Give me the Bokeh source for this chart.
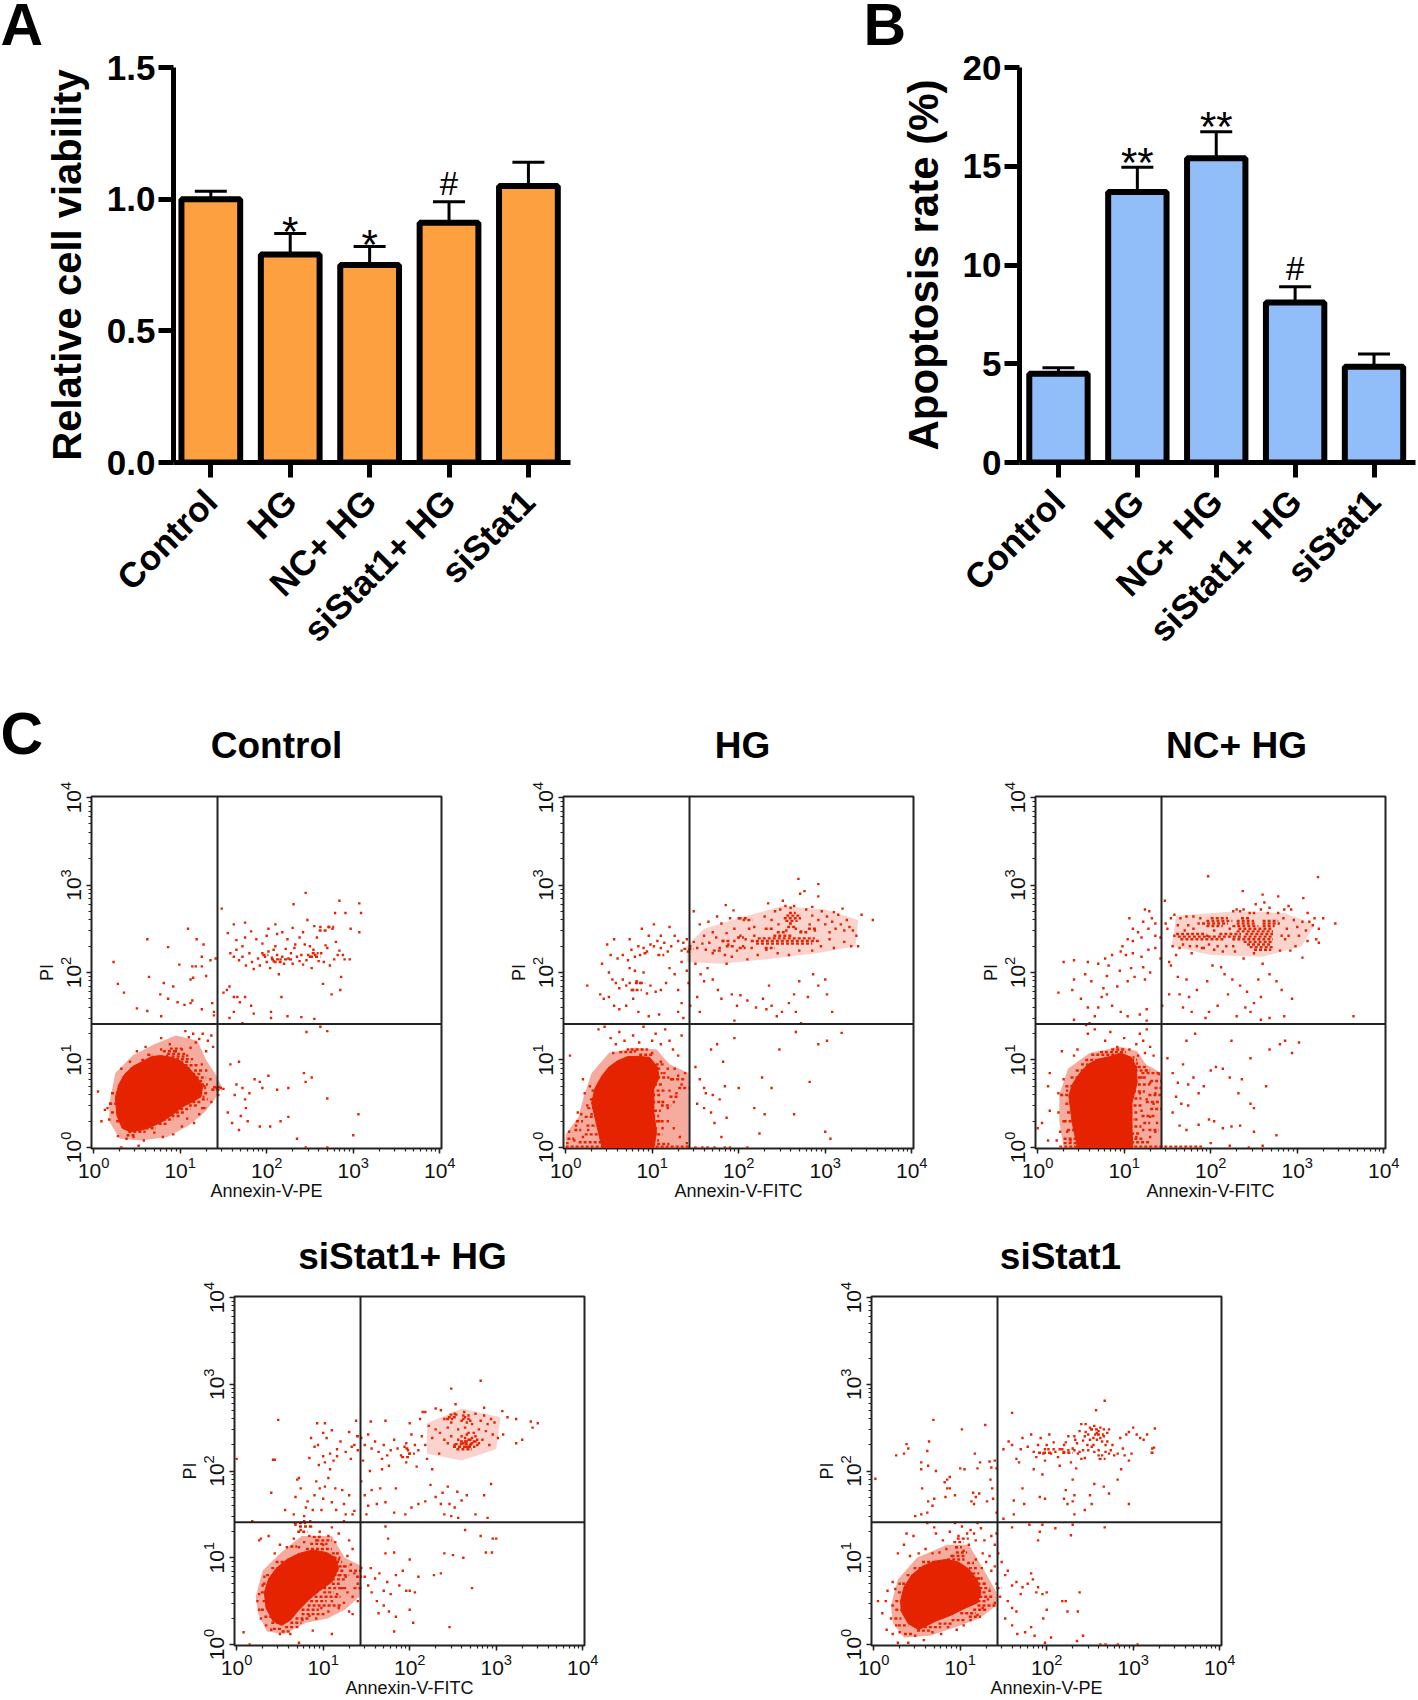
from math import pi
from bokeh.plotting import figure
from bokeh.layouts import column, row
from bokeh.models import (ColumnDataSource, FixedTicker, Range1d, Span, TeeHead, Whisker)
from bokeh.core.properties import value
from bokeh.embed import file_html
from bokeh.resources import INLINE

FONT = "Liberation Sans"
CATEGORIES = ["Control", "HG", "NC+ HG", "siStat1+ HG", "siStat1"]
VIABILITY = [1.0, 0.79, 0.75, 0.91, 1.05]
VIABILITY_TOP = [1.03, 0.87, 0.82, 0.99, 1.14]
VIABILITY_MARKS = ["", "*", "*", "#", ""]
APOPTOSIS = [4.5, 13.7, 15.4, 8.1, 4.85]
APOPTOSIS_TOP = [4.8, 14.95, 16.75, 8.9, 5.5]
APOPTOSIS_MARKS = ["", "**", "**", "#", ""]
QUAD_X = 27.0
QUAD_Y = 25.7

# All flow events below are (log10 Annexin-V, log10 PI).
# *_RUNS are horizontal runs of events: (log10 PI, first log10 Annexin-V, last log10 Annexin-V).
# *_CORE is the solid population outline, *_HALO the speckled zone round it.
CONTROL_HALO = [(.18,.5),(.25,.85),(.45,1.05),(.7,1.18),(.95,1.28),(1.2,1.22),(1.3,1.0),(1.4,.85),(1.48,.7),(1.4,.55),(1.28,.4),(1.1,.25),(.85,.12),(.55,.08),(.3,.1),(.18,.3)]
CONTROL_CORE = [(.25,.57),(.29,.72),(.36,.84),(.46,.93),(.56,.98),(.67,1.04),(.78,1.05),(.90,1.03),(1.0,.99),(1.10,.91),(1.18,.82),(1.26,.70),(1.24,.58),(1.14,.52),(1.02,.46),(.92,.38),(.80,.30),(.68,.24),(.56,.20),(.42,.18),(.33,.22),(.27,.36)]
CONTROL_RUNS = [(1.10,.80,.95),(1.13,.88,1.02),(1.07,.85,1.08),(1.04,.90,1.05),(1.01,.95,1.15),(.98,1.0,1.12),(.94,1.05,1.2),(.90,1.08,1.14),(.88,1.16,1.26),(.84,1.14,1.24),(.80,1.18,1.30),(.76,1.22,1.28),(.72,1.24,1.32),(.68,1.22,1.30),(.66,1.36,1.48),(.69,1.38,1.46),(.62,1.22,1.32),(.58,1.2,1.28),(.52,1.14,1.25),(.48,1.1,1.2),(.44,1.0,1.12),(.40,.95,1.05),(.36,.9,1.0),(.32,.8,.92),(.27,.75,.85),(.22,.6,.72),(.18,.4,.6),(.14,.38,.48),(.62,.2,.28),(.5,.18,.27),(.4,.2,.28),(.3,.26,.34),(.7,.28,.34),(.8,.33,.4),(.9,.42,.5),(1.0,.55,.7),(1.06,.62,.68),(.55,1.25,1.32),(.45,1.24,1.3),
(2.18,2.5,2.62),(2.15,2.05,2.15),(2.15,2.2,2.3),(2.2,1.95,2.02),(2.12,2.08,2.18),(2.52,2.7,2.78),(2.48,2.6,2.7),(2.22,2.52,2.6)]
CONTROL_EVENTS = [(2.45,2.91),(2.84,2.82),(3.07,2.79),(3.09,2.68),(2.31,2.78),(2.79,2.68),(2.91,2.68),(3.07,2.46),(2.97,2.50),(1.48,2.73),(1.75,2.57),(1.62,2.55),(1.09,2.50),(.62,2.38),(1.19,2.38),(.86,2.29),(1.27,2.32),(.23,2.12),(.28,1.87),(.35,1.77),(.64,1.95),(.99,2.09),(1.14,2.07),(1.18,2.07),(1.25,2.18),(1.41,2.16),(1.35,2.14),(1.25,2.07),(1.30,1.96),(1.12,1.92),(1.15,1.94),(.81,1.88),(.92,1.84),(.77,1.75),(.86,1.70),(.97,1.66),(1.05,1.63),(1.12,1.65),(1.14,1.68),(.50,1.59),(.62,1.56),(.78,1.50),(1.25,1.58),(1.37,1.65),(1.39,1.55),(1.39,1.51),
(1.50,1.77),(1.54,1.80),(1.57,1.84),(1.62,1.72),(1.66,1.72),(1.69,1.66),(1.75,1.72),(1.82,1.62),(1.62,1.55),(1.57,1.48),(1.72,1.42),(1.85,1.53),(2.05,1.48),(2.05,1.55),(2.24,1.50),(2.40,1.49),(2.55,1.47),(2.62,1.38),(2.70,1.33),(2.46,1.32),(2.75,1.75),(2.85,1.80),(2.65,1.87),(2.17,1.72),
(1.55,2.45),(1.65,2.37),(1.72,2.30),(1.75,2.40),(1.82,2.47),(1.88,2.38),(1.95,2.33),(2.00,2.42),(2.02,2.50),(2.08,2.26),(2.10,2.55),(2.12,2.44),(2.18,2.46),(2.24,2.38),(2.30,2.51),(2.33,2.32),(2.38,2.40),(2.42,2.46),(2.47,2.60),(2.50,2.30),(2.55,2.53),(2.58,2.40),(2.62,2.52),(2.68,2.31),(2.72,2.52),(2.76,2.50),(2.80,2.35),(2.84,2.25),(2.88,2.20),(2.96,2.15),(2.86,1.95),
(1.58,2.22),(1.62,2.18),(1.65,2.26),(1.68,2.14),(1.72,2.18),(1.76,2.08),(1.80,2.22),(1.83,2.12),(1.85,2.04),(1.90,2.16),(1.92,2.08),(1.95,2.22),(1.98,2.18),(2.00,2.12),(2.02,2.24),(2.04,2.05),(2.06,2.17),(2.08,2.13),(2.10,2.30),(2.12,2.20),(2.14,1.98),(2.16,2.15),(2.18,2.18),(2.20,2.10),(2.22,2.27),(2.25,2.16),(2.28,2.22),(2.30,2.10),(2.32,2.28),(2.35,2.18),(2.38,2.13),(2.40,2.20),(2.42,2.09),(2.44,2.32),(2.46,2.14),(2.48,2.20),(2.50,2.18),(2.52,2.05),(2.54,2.26),(2.56,2.20),(2.60,2.13),(2.63,2.22),(2.66,2.12),(2.70,2.28),(2.73,2.08),(2.78,2.15),(2.82,2.20),(2.90,2.15),
(.95,1.10),(1.02,1.12),(1.08,1.05),(1.12,1.14),(1.18,1.20),(1.22,1.24),(1.15,1.30),(1.10,1.26),(1.06,1.33),(1.26,1.30),(1.32,1.22),(1.36,1.28),(1.38,1.15),(1.30,1.10),(.78,1.25),(.88,1.18),(.60,1.15),(.50,1.10),(.42,.98),(.32,.90),(.78,1.12),(.85,1.05),
(1.25,.95),(1.30,.88),(1.35,.78),(1.28,.70),(1.38,.66),(1.42,.68),(1.47,.68),(1.50,.67),(1.44,.60),(1.36,.52),(1.28,.45),(1.22,.38),(1.16,.28),(1.08,.33),(1.02,.24),(.92,.15),(.80,.12),(.70,.17),(.58,.08),(.46,.12),(.38,.10),(.28,.13),(.18,.32),(.16,.45),(.09,.30),(.05,.64),(.13,.43),(.19,.50),(.32,0),(.52,.02),
(1.58,.95),(1.68,.98),(1.65,.72),(1.72,.68),(1.80,.62),(1.86,.78),(1.92,.75),(1.95,.68),(2.02,.82),(1.76,.45),(1.70,.36),(1.68,.20),(1.55,.40),(1.60,.28),(1.78,.30),(1.92,.24),(2.04,.24),(2.16,.30),(2.25,.35),(2.35,.10),(2.45,0),(2.70,0),(3.00,.14),(3.06,.38),(2.70,.56),(2.45,.75),(2.43,.85),(2.52,.80),(2.25,.68),(2.12,.66),(1.63,.60),(1.75,.55)]

HG_HALO = [(.2,.55),(.3,.85),(.5,1.08),(.8,1.14),(1.05,1.12),(1.2,.95),(1.42,.85),(1.42,0),(0,0),(0,.15),(.15,.35)]
HG_CLOUD = [(1.4,2.12),(1.8,2.1),(2.3,2.15),(2.9,2.22),(3.35,2.3),(3.38,2.6),(3.0,2.72),(2.5,2.76),(2.0,2.62),(1.6,2.5),(1.4,2.3)]
HG_CORE = [(.30,.51),(.34,.68),(.42,.82),(.50,.92),(.60,.99),(.72,1.04),(.85,1.04),(.97,1.03),(1.06,.92),(1.08,.80),(1.02,.67),(1.02,.40),(1.05,.17),(1.02,0),(.42,0),(.36,.25)]
HG_RUNS = [(2.33,2.2,2.85),(2.36,2.14,2.93),(2.39,2.22,2.88),(2.42,2.4,2.62),(2.68,2.58,2.66),(2.65,2.55,2.7),(2.62,2.52,2.72),(2.59,2.54,2.68),(2.56,2.58,2.62),(2.50,2.3,2.4),(2.52,2.56,2.66),(2.46,2.44,2.56),(2.46,2.7,2.8),(2.50,2.8,2.9),(2.28,2.3,2.42),(2.28,2.0,2.08),(2.25,1.7,1.8),(2.3,1.85,1.95),(2.36,1.8,1.9),(2.4,1.98,2.06),(2.62,2.0,2.1),(2.6,2.1,2.16),(2.27,1.36,1.48),(2.24,1.40,1.46),(1.88,.80,.92),(1.80,.75,.88),(2.2,1.06,1.14),(2.22,.9,.96),
(1.12,.75,.95),(1.09,.62,.78),(1.06,.85,1.02),(.95,1.04,1.15),(.9,1.0,1.10),(.85,1.04,1.12),(.8,1.0,1.2),(.78,1.22,1.38),(.72,1.02,1.12),(.68,1.3,1.42),(.65,1.05,1.15),(.6,1.0,1.1),(.58,1.2,1.3),(.52,1.0,1.14),(.48,1.1,1.22),(.42,1.02,1.1),(.36,1.0,1.08),(.3,1.04,1.14),(.22,1.02,1.08),(.15,1.0,1.12),(.08,1.0,1.08),(.04,1.0,1.2),(.01,0,1.42),(.85,.45,.55),(.75,.38,.46),(.65,.3,.38),(.55,.28,.34),(.45,.25,.32),(.35,.22,.36),(.25,.24,.36),(.15,.22,.44),(.06,.15,.44),(.3,.12,.2),(.2,.1,.18),(.1,.02,.1)]
HG_EVENTS = [(2.69,3.07),(2.92,3.01),(2.76,2.93),(2.71,2.90),(2.92,2.87),(2.51,2.82),(1.85,2.77),(2.34,2.79),(2.54,2.76),(2.64,2.76),(1.48,2.70),(1.94,2.71),(2.85,2.75),(3.10,2.69),(3.20,2.73),(3.15,2.66),(3.25,2.60),(3.42,2.66),(3.55,2.60),
(2.30,2.64),(2.38,2.60),(2.42,2.70),(2.46,2.55),(2.48,2.72),(2.55,2.48),(2.60,2.74),(2.66,2.50),(2.72,2.47),(2.78,2.72),(2.82,2.55),(2.85,2.65),(2.88,2.48),(2.92,2.60),(2.96,2.70),(3.00,2.55),(3.02,2.64),(3.05,2.46),(3.08,2.58),(3.12,2.50),(3.18,2.55),(3.22,2.48),(3.28,2.52),(3.32,2.48),(3.36,2.42),(3.38,2.30),(3.30,2.30),(3.22,2.35),(3.10,2.28),(3.05,2.38),(2.95,2.30),(2.85,2.25),(2.70,2.25),(2.58,2.20),(2.45,2.22),(2.32,2.26),(2.22,2.20),(2.18,2.52),(2.12,2.50),(2.06,2.60),(2.00,2.62),(1.95,2.50),(1.90,2.62),(1.86,2.45),(1.80,2.56),(1.75,2.64),(1.70,2.46),(1.65,2.58),(1.60,2.42),(1.55,2.55),
(2.02,2.42),(2.05,2.30),(2.08,2.38),(2.10,2.15),(2.15,2.28),(2.18,2.42),(1.98,2.25),(1.95,2.36),(1.92,2.18),(1.88,2.32),(1.84,2.20),(1.82,2.36),(1.78,2.28),(1.74,2.40),(1.70,2.22),(1.66,2.34),(1.62,2.26),(1.58,2.33),(1.52,2.28),(1.48,2.35),(1.44,2.30),(1.40,2.38),(1.36,2.34),(1.34,2.25),(1.30,2.36),(1.26,2.42),(1.22,2.30),(1.18,2.24),(1.14,2.34),(1.10,2.28),(1.06,2.36),(1.02,2.30),(.98,2.32),(.94,2.24),(.90,2.28),(.86,2.20),(.84,2.30),(.80,2.18),(.76,2.26),(.72,2.14),(.66,2.20),(.60,2.16),(.52,2.20),(.48,2.32),(.74,2.38),(.56,2.38),(1.20,2.52),(1.10,2.42),(1.02,2.55),(.96,2.42),(.88,2.50),
(.42,2.10),(.50,2.00),(.54,1.92),(.58,1.88),(.62,1.82),(.66,1.92),(.70,1.85),(.74,1.88),(.78,1.80),(.82,1.90),(.86,1.88),(.90,2.00),(.94,1.76),(.98,1.85),(.80,2.02),(.74,2.05),(1.04,1.78),(1.10,1.80),(1.16,1.88),(1.20,2.05),(1.26,1.98),(1.34,2.12),(1.40,2.02),(1.30,1.80),(1.34,1.65),(1.42,1.88),(.40,1.75),(.44,1.70),(.50,1.72),(.56,1.62),(.62,1.58),(.70,1.62),(.78,1.70),(.84,1.55),(.96,1.50),(1.08,1.52),(1.30,1.55),(1.36,1.48),(.25,1.85),
(1.50,2.10),(1.56,1.98),(1.60,1.90),(1.64,2.05),(1.70,1.92),(1.76,1.80),(1.80,1.70),(1.86,2.10),(1.92,1.75),(1.98,1.62),(2.02,1.74),(2.10,1.68),(2.20,1.60),(2.28,1.70),(2.32,1.58),(2.35,1.85),(2.38,1.62),(2.44,1.50),(2.50,1.55),(2.58,1.65),(2.64,1.75),(2.66,1.55),(2.70,1.90),(2.86,1.98),(2.92,1.85),(3.02,1.75),(3.00,1.92),(3.08,1.55),(1.95,1.45),(1.55,1.55),(1.52,1.72),(1.44,1.62),(2.80,1.72),(2.72,1.42),
(.38,1.35),(.45,1.38),(.52,1.25),(.58,1.18),(.62,1.32),(.68,1.22),(.72,1.12),(.78,1.28),(.85,1.20),(.90,1.38),(1.00,1.22),(1.04,1.30),(1.10,1.18),(1.15,1.35),(1.20,1.22),(1.24,1.12),(1.30,1.05),(1.34,1.28),(1.00,1.08),(.80,1.10),(.55,1.08),
(1.10,.98),(1.14,.85),(1.18,.90),(1.22,.78),(1.26,.90),(1.30,.82),(1.34,.72),(1.38,.85),(1.20,.65),(1.28,.62),(1.12,.52),(1.18,.45),(1.25,.52),(1.08,.30),(1.12,.22),(1.18,.30),(1.25,.22),(1.32,.12),(1.40,.05),(.22,.62),(.25,.48),(.18,.38),(.12,.25),(.30,.38),(.26,.20),(.20,.12),(.10,.08),(.04,.18),(.02,.05),(.14,.40),(.28,.70),(.05,1.05),(.20,.78),
(1.50,0),(1.58,0),(1.64,0),(1.72,0),(1.84,0),(1.90,0),(2.10,0),
(1.50,.92),(1.55,.78),(1.60,.68),(1.62,.62),(1.70,.60),(1.78,.55),(1.52,.50),(1.60,.45),(1.68,.40),(1.72,.28),(1.80,.12),(1.86,.34),(1.84,.70),(1.82,.98),(2.00,.68),(2.18,.45),(2.30,.38),(2.24,.16),(2.38,.68),(2.82,.75),(2.64,.38),(3.00,.18),(3.06,.10),(2.27,.80),(2.47,1.12),(1.68,1.12),(1.75,1.18),(1.95,1.25),(2.66,1.32),(2.92,1.18),(3.02,1.22),(3.19,1.31)]

NC_HALO = [(.25,.6),(.35,.9),(.6,1.08),(.95,1.15),(1.15,1.1),(1.25,.95),(1.43,.85),(1.43,0),(.3,0),(.25,.3)]
NC_CLOUD = [(1.55,2.3),(2.0,2.2),(2.6,2.18),(3.05,2.3),(3.2,2.55),(2.85,2.68),(2.3,2.7),(1.6,2.65)]
NC_CORE = [(.36,.59),(.40,.72),(.48,.84),(.58,.95),(.70,1.01),(.84,1.04),(.96,1.08),(1.08,1.03),(1.14,.92),(1.15,.74),(1.09,.51),(1.09,.21),(1.10,0),(.46,0),(.40,.28)]
NC_RUNS = [(2.62,2.0,2.2),(2.62,2.35,2.45),(2.59,1.95,2.25),(2.59,2.3,2.5),(2.59,2.6,2.78),(2.56,1.9,2.2),(2.56,2.3,2.52),(2.56,2.6,2.8),(2.53,1.95,2.14),(2.53,2.25,2.55),(2.53,2.6,2.74),(2.5,2.32,2.7),(2.47,2.3,2.72),(2.44,1.6,1.95),(2.44,2.1,2.35),(2.44,2.4,2.72),(2.41,1.62,2.35),(2.41,2.38,2.72),(2.38,1.65,2.15),(2.38,2.25,2.72),(2.35,2.38,2.72),(2.32,2.42,2.7),(2.29,2.45,2.72),(2.26,2.5,2.7),
(1.12,.85,1.0),(1.09,.72,1.02),(1.06,.62,.9),(1.03,.98,1.12),(1.0,1.08,1.15),(.96,1.08,1.16),(.92,1.1,1.25),(.88,1.12,1.3),(.85,1.2,1.42),(.8,1.1,1.25),(.76,1.3,1.43),(.72,1.1,1.3),(.68,1.35,1.43),(.64,1.1,1.24),(.6,1.28,1.43),(.56,1.06,1.2),(.52,1.25,1.4),(.48,1.05,1.22),(.44,1.3,1.43),(.4,1.06,1.15),(.36,1.2,1.36),(.32,1.05,1.12),(.28,1.22,1.3),(.24,1.06,1.2),(.2,1.28,1.4),(.16,1.08,1.18),(.1,1.06,1.22),(.06,1.08,1.3),(.01,.25,1.9),(1.0,.55,.7),(.95,.5,.58),(.88,.44,.54),(.8,.38,.46),(.7,.32,.4),(.6,.26,.36),(.5,.32,.38),(.4,.34,.42),(.3,.3,.4),(.2,.34,.44),(.1,.3,.44),(.05,.3,.46)]
NC_EVENTS = [(1.97,3.10),(3.24,3.09),(2.37,2.93),(2.60,2.89),(2.78,2.87),(2.90,2.76),(1.47,2.82),(3.07,2.85),(2.52,2.78),(2.62,2.80),(2.68,2.74),(2.85,2.72),(2.93,2.72),(3.12,2.68),(3.30,2.62),(3.20,2.62),(3.25,2.50),(3.44,2.56),(3.22,2.38),(3.25,2.34),(3.02,2.42),(3.12,2.36),(2.98,2.30),(2.92,2.25),(3.06,2.17),(2.80,2.25),(2.60,2.10),(2.38,2.16),(1.92,2.28),(1.78,2.22),(1.60,2.20),(1.52,2.12),
(1.48,2.56),(1.50,2.50),(1.54,2.62),(1.58,2.66),(1.62,2.54),(1.65,2.62),(1.70,2.48),(1.72,2.64),(1.76,2.30),(1.80,2.64),(1.84,2.30),(1.88,2.62),(1.90,2.28),(2.26,2.70),(2.30,2.72),(2.34,2.70),(2.38,2.72),(2.45,2.68),(2.50,2.68),(2.58,2.72),(2.66,2.68),(2.78,2.68),(2.84,2.62),(2.88,2.50),(2.86,2.38),(2.82,2.42),(2.90,2.42),(2.96,2.60),(3.00,2.52),(3.06,2.58),(3.10,2.48),(3.14,2.58),(3.18,2.54),(2.04,2.48),(2.22,2.50),(2.26,2.30),(2.18,2.30),(2.08,2.30),(1.98,2.32),(1.96,2.42),(1.80,2.50),(1.74,2.54),(1.86,2.56),(1.68,2.32),(1.64,2.28),(1.56,2.30),(1.58,2.42),(2.28,2.24),(2.14,2.24),(2.04,2.26),(2.50,2.22),
(1.06,2.62),(1.24,2.72),(1.29,2.70),(1.32,2.62),(1.36,2.56),(1.22,2.58),(1.10,2.50),(1.16,2.46),(1.28,2.50),(1.36,2.42),(1.42,2.40),(1.20,2.40),(1.10,2.36),(1.04,2.38),(.98,2.30),(.96,2.24),(1.02,2.20),(1.10,2.22),(1.20,2.18),(1.28,2.26),(1.36,2.28),(1.42,2.16),(.86,2.20),(.78,2.16),(.70,2.10),(.58,2.12),(.42,2.14),(.30,2.12),(.82,2.08),(.95,2.02),(1.08,2.05),(1.22,2.06),(1.30,2.00),(1.24,1.92),(1.12,1.95),(1.04,1.90),(.92,1.84),(.80,1.96),(.76,1.82),(.74,1.72),(.80,1.75),(.62,1.90),(.55,1.98),(.42,1.92),(.40,1.80),(.24,1.77),(.50,1.70),(.58,1.60),(.70,1.60),(.86,1.62),(.96,1.55),(1.04,1.50),(1.18,1.52),(1.26,1.58),(1.26,1.45),(.66,1.50),(.60,1.42),(.56,1.40),(.42,1.46),
(1.54,2.08),(1.62,1.95),(1.72,1.92),(1.84,1.80),(1.75,1.72),(1.78,1.55),(1.52,1.75),(1.44,1.62),(1.64,1.75),(1.68,1.60),(1.96,1.90),(2.02,2.08),(2.12,2.06),(2.16,1.98),(2.25,1.92),(2.34,1.85),(2.42,1.78),(2.55,1.92),(2.68,1.98),(2.76,1.90),(2.82,1.80),(2.94,1.70),(2.85,1.50),(3.65,1.50),(2.58,1.72),(2.50,1.65),(2.46,1.55),(2.40,1.60),(2.20,1.75),(2.08,1.62),(1.98,1.55),(1.94,1.48),(2.30,1.50),(2.58,1.46),(2.68,1.48),
(.58,1.30),(.66,1.35),(.78,1.22),(.84,1.32),(.92,1.15),(1.00,1.25),(1.06,1.12),(1.14,1.18),(1.18,1.30),(1.22,1.22),(1.26,1.35),(1.30,1.15),(1.16,1.05),(1.24,1.08),(1.34,1.05),(.46,1.12),(.42,1.05),(.28,1.10),
(1.14,.92),(1.20,.80),(1.26,.88),(1.30,.74),(1.36,.62),(1.40,.84),(1.18,.62),(1.26,.55),(1.34,.50),(1.20,.42),(1.30,.35),(1.38,.28),(1.14,.32),(1.22,.20),(1.30,.12),(1.36,.18),(1.14,.12),(.34,.65),(.30,.78),(.24,.62),(.12,.70),(.14,.85),(.24,.40),(.14,.42),(.30,.30),(.34,.18),(.38,.08),(.26,.18),(.05,.28),(0,.22),(.12,.08),(.22,.08),
(1.50,1.02),(1.56,.85),(1.62,.74),(1.68,.95),(1.74,.72),(1.80,.80),(1.86,.62),(1.92,.70),(1.60,.58),(1.66,.50),(1.74,.48),(1.56,.40),(1.64,.25),(1.72,.20),(1.86,.26),(1.98,.32),(2.04,.30),(2.14,.22),(2.24,.24),(2.34,.25),(2.50,.18),(2.76,.14),(2.00,.88),(2.06,.92),(2.14,.90),(2.22,.80),(2.32,.62),(2.36,.78),(2.46,.50),(2.50,.45),(2.64,.70),(1.72,1.22),(1.82,1.30),(2.24,1.22),(2.46,1.02),(2.68,1.12),(2.80,1.18),(2.86,1.22),(2.94,1.08),(3.02,1.20),
(2.00,.05),(2.22,.02),(2.44,0),(2.60,.02)]

SI_HG_HALO = [(.22,.55),(.3,.85),(.5,1.05),(.75,1.25),(1.1,1.25),(1.25,1.0),(1.45,.9),(1.42,.55),(1.25,.4),(1.05,.3),(.8,.25),(.55,.12),(.35,.15),(.25,.35)]
SI_HG_CLOUD = [(2.2,2.2),(2.6,2.12),(3.0,2.25),(3.05,2.62),(2.6,2.72),(2.2,2.55)]
SI_HG_CORE = [(.32,.60),(.37,.76),(.46,.88),(.58,.98),(.72,1.05),(.88,1.09),(1.04,1.06),(1.14,1.0),(1.18,.88),(1.10,.72),(.96,.62),(.84,.52),(.72,.40),(.62,.28),(.52,.22),(.42,.27),(.34,.42)]
SI_HG_RUNS = [(1.1,.8,1.1),(1.13,.62,.7),(1.16,.85,1.05),(1.2,.92,1.1),(1.24,.88,.98),(1.3,.7,.82),(1.36,.72,.85),(1.4,.66,.8),(1.05,1.1,1.18),(1.0,1.12,1.2),(.95,1.15,1.22),(.9,1.18,1.3),(.85,1.14,1.24),(.8,1.12,1.3),(.75,1.1,1.25),(.7,1.1,1.2),(.65,1.0,1.28),(.6,1.0,1.12),(.55,.9,1.2),(.5,.85,1.04),(.45,.82,1.22),(.4,.75,.95),(.35,.75,1.02),(.3,.68,.85),(.25,.62,.75),(.2,.56,.68),(.15,.52,.62),(.95,.45,.55),(.88,.4,.48),(.8,.34,.42),(.7,.3,.38),(.6,.28,.34),(.5,.3,.35),(.4,.28,.34),(.32,.32,.44),(.25,.4,.54),(.18,.42,.52),(.85,1.3,1.44),(.78,1.38,1.45),(.65,1.35,1.46),
(2.28,2.5,2.76),(2.25,2.54,2.72),(2.31,2.52,2.72),(2.34,2.58,2.7),(2.62,2.44,2.54),(2.6,2.42,2.5),(2.65,2.46,2.56),(2.16,1.9,2.0),(2.2,1.98,2.06),(2.26,1.95,2.0),(2.4,1.38,1.44)]
SI_HG_EVENTS = [(2.82,3.04),(2.48,2.95),(.48,2.59),(.42,2.13),(.44,2.13),(0,2.14),(.15,0),(.08,.14),(1.38,2.58),(.93,2.55),(1.02,2.55),(1.00,2.44),(1.10,2.47),(1.55,2.57),(1.72,2.58),(2.00,2.55),(2.15,2.68),(2.18,2.68),(2.12,2.60),(2.30,2.72),(2.36,2.70),(2.53,2.77),(2.63,2.68),(2.86,2.73),(3.07,2.69),(3.13,2.62),(3.23,2.60),(3.40,2.57),(3.48,2.55),(3.42,2.50),(3.30,2.36),(3.08,2.42),(3.23,2.32),(3.02,2.38),
(2.40,2.60),(2.44,2.50),(2.48,2.56),(2.52,2.66),(2.56,2.48),(2.60,2.58),(2.62,2.64),(2.64,2.50),(2.66,2.42),(2.68,2.60),(2.70,2.36),(2.72,2.54),(2.74,2.44),(2.76,2.66),(2.78,2.30),(2.80,2.48),(2.82,2.58),(2.84,2.36),(2.86,2.64),(2.88,2.46),(2.90,2.54),(2.92,2.30),(2.94,2.60),(2.96,2.42),(2.98,2.56),(2.40,2.36),(2.44,2.32),(2.48,2.40),(2.52,2.30),(2.56,2.36),(2.60,2.40),(2.62,2.32),(2.64,2.38),(2.66,2.28),(2.68,2.44),(2.70,2.30),(2.72,2.38),(2.74,2.34),(2.76,2.40),(2.78,2.36),(2.80,2.32),(2.64,2.34),(2.68,2.36),(2.72,2.32),(2.76,2.34),(2.62,2.60),(2.64,2.62),(2.66,2.56),(2.68,2.64),(2.70,2.58),
(2.35,2.44),(2.30,2.48),(2.26,2.38),(2.22,2.52),(2.18,2.30),(2.14,2.40),(2.10,2.24),(2.06,2.30),(2.02,2.42),(1.98,2.24),(1.96,2.32),(1.94,2.28),(2.00,2.20),(1.90,2.18),(1.86,2.26),(1.82,2.36),(1.78,2.24),(1.74,2.18),(1.70,2.30),(1.68,2.14),(1.64,2.22),(1.60,2.34),(1.56,2.26),(1.52,2.42),(1.48,2.30),(1.44,2.38),(1.40,2.24),(1.36,2.30),(1.32,2.14),(1.30,2.45),(1.26,2.22),(1.20,2.34),(1.16,2.25),(1.12,2.12),(1.08,2.20),(1.04,2.38),(1.00,2.17),(.94,2.30),(.90,2.28),(.84,2.15),(.86,2.38),(.95,2.07),(1.02,2.10),(1.08,2.02),(1.16,2.17),(1.33,2.28),
(2.34,2.20),(2.26,2.02),(2.20,2.14),(2.08,2.05),(1.96,2.10),(1.76,2.06),(1.68,2.02),(1.54,2.00),(1.46,2.12),(1.84,1.80),(1.56,1.78),(1.66,1.80),(2.24,1.84),(2.38,1.75),(2.44,1.82),(2.55,1.76),(2.94,1.85),(2.86,1.72),(2.66,1.72),(2.60,1.66),(2.52,1.58),(2.46,1.62),(2.40,1.50),(2.36,1.62),(2.30,1.70),(2.18,1.65),(2.10,1.62),(2.02,1.58),(1.95,1.50),(1.82,1.52),(1.72,1.64),(1.62,1.62),(1.50,1.50),(1.48,1.72),(1.44,1.88),(1.52,1.60),(1.22,1.78),(1.36,1.54),(2.48,1.48),(2.56,1.46),(2.64,1.32),(2.76,1.50),(2.90,1.46),
(.68,1.70),(.74,1.80),(.70,1.90),(.72,1.92),(.80,1.58),(.82,1.65),(.90,1.72),(.88,1.55),(.96,1.80),(.92,1.88),(1.00,1.68),(1.02,1.82),(1.06,1.92),(1.10,1.64),(1.14,1.80),(.40,1.75),(.56,1.55),(.66,1.50),(.78,1.48),(.85,1.42),(.98,1.55),(1.15,1.55),(1.26,1.50),(1.24,1.62),(1.34,1.50),(1.30,1.72),
(.68,1.38),(.74,1.32),(.78,1.42),(.84,1.25),(.86,1.36),(.92,1.20),(.96,1.30),(1.00,1.15),(1.06,1.25),(1.10,1.35),(1.14,1.18),(1.18,1.28),(1.24,1.42),(1.30,1.20),(1.34,1.10),(1.28,1.02),(.66,1.22),(.58,1.12),(.50,1.15),(.44,1.05),(.28,1.22),(.37,1.25),(.18,1.42),(.26,1.20),(.78,1.18),(1.16,1.05),(.72,1.12),
(1.18,.98),(1.24,.90),(1.18,.80),(1.26,.78),(1.32,.92),(1.36,.82),(1.40,.70),(1.44,.88),(1.48,.78),(1.52,.68),(1.56,.60),(1.22,.65),(1.28,.60),(1.34,.55),(1.16,.58),(1.10,.50),(1.18,.42),(1.24,.48),(1.30,.38),(1.06,.38),(.98,.42),(.92,.30),(.84,.33),(.76,.28),(.70,.20),(.62,.12),(.50,.12),(.40,.17),(.34,.22),(.28,.30),(.26,.40),(.30,.68),(.26,.58),(.24,.50),(.32,.78),(1.40,.50),(1.34,.35),(.88,.16),(1.10,.12),(.72,.02),
(1.55,.88),(1.60,.76),(1.65,.82),(1.70,.62),(1.74,.72),(1.78,.58),(1.84,.80),(1.88,.68),(1.92,.85),(1.96,.62),(1.62,.50),(1.70,.45),(1.76,.38),(1.64,.36),(1.84,.32),(1.82,.15),(2.00,.62),(2.06,.60),(2.04,.25),(2.00,.40),(2.72,.65),(2.46,.20),(2.10,.78),(2.00,.98),(2.28,.80),(2.36,.82),(2.50,1.03),(2.62,1.00),(2.88,1.06),(2.95,1.06),(2.40,1.05),(1.82,1.06),(1.72,1.05),(1.75,1.22),(1.72,1.36),(2.82,1.25),(2.96,1.22),(3.0,1.22)]

SI_HALO = [(.2,.45),(.28,.75),(.5,1.0),(.85,1.15),(1.1,1.15),(1.28,.85),(1.42,.6),(1.42,.45),(1.22,.3),(.95,.2),(.65,.1),(.35,.08),(.22,.25)]
SI_CORE = [(.31,.50),(.35,.66),(.44,.80),(.56,.90),(.70,.96),(.84,.98),(.98,.95),(1.10,.87),(1.20,.74),(1.24,.60),(1.20,.48),(1.06,.42),(.90,.34),(.72,.27),(.52,.17),(.40,.24),(.32,.38)]
SI_RUNS = [(.98,.85,1.05),(1.02,.9,1.05),(1.06,.95,1.08),(1.12,.94,1.02),(1.18,.92,1.04),(1.22,.96,1.1),(.94,1.08,1.16),(.88,1.1,1.2),(.82,1.14,1.22),(.76,1.18,1.26),(.7,1.2,1.3),(.65,1.22,1.34),(.6,1.2,1.3),(.55,1.22,1.38),(.5,1.2,1.3),(.45,1.2,1.42),(.4,1.15,1.3),(.36,1.0,1.18),(.32,1.1,1.24),(.28,.9,1.05),(.24,.75,.92),(.2,.58,.78),(.16,.5,.65),(.12,.35,.45),(.22,.28,.4),(.3,.24,.32),(.4,.25,.32),(.5,.25,.32),(.6,.28,.36),(.7,.33,.4),(.8,.38,.48),(.88,.46,.56),(.95,.56,.7),(.65,1.42,1.48),
(2.21,1.9,2.05),(2.21,2.18,2.3),(2.48,2.5,2.6),(2.42,2.58,2.66),(2.14,2.6,2.68),(2.21,3.2,3.25)]
SI_EVENTS = [(2.67,2.81),(2.57,2.70),(1.60,2.67),(.69,2.59),(1.02,2.48),(1.29,2.53),(.64,2.34),(.62,2.23),(.38,2.31),(.40,2.26),(.35,2.20),(.26,2.18),(.02,1.91),(1.13,1.65),(.63,2.06),(.72,2.00),(.88,1.93),(1.0,2.03),(1.05,2.02),(1.20,2.03),(1.17,2.20),(1.23,2.10),(1.34,2.11),(1.40,2.12),(1.36,2.04),(1.35,1.90),(1.42,2.03),(1.37,1.80),(.55,2.10),(.55,2.02),(.85,1.90),(.82,1.87),(.85,1.80),(.88,1.80),(.56,1.80),(.63,1.65),(.70,1.68),(.83,1.70),(.94,1.72),(1.16,1.62),(1.18,1.70),(1.15,1.75),(1.22,1.74),(1.31,1.65),(1.38,1.68),
(1.50,2.25),(1.56,2.34),(1.60,2.30),(1.65,2.14),(1.68,2.10),(1.70,2.25),(1.72,2.38),(1.78,2.28),(1.82,2.42),(1.85,2.22),(1.88,2.16),(1.90,2.30),(1.93,2.38),(1.96,2.20),(1.98,2.12),(2.00,2.30),(2.03,2.42),(2.05,2.20),(2.08,2.33),(2.10,2.22),(2.13,2.16),(2.15,2.25),(2.20,2.22),(2.22,2.33),(2.25,2.40),(2.28,2.10),(2.30,2.26),(2.33,2.36),(2.36,2.20),(2.40,2.14),(2.42,2.24),(2.45,2.45),(2.45,2.54),(2.50,2.50),(2.52,2.28),(2.54,2.38),(2.55,2.52),(2.58,2.44),(2.60,2.24),(2.62,2.50),(2.64,2.18),(2.66,2.40),(2.68,2.30),(2.70,2.44),(2.72,2.48),(2.74,2.24),(2.76,2.30),(2.78,2.18),(2.82,2.20),(2.85,2.38),(2.88,2.26),(2.90,2.18),(2.92,2.42),(2.95,2.45),(3.00,2.50),(3.04,2.42),(3.08,2.38),(3.12,2.36),(3.16,2.42),(3.22,2.26),(3.24,2.27),(3.25,2.49),(2.98,2.20),(2.95,2.12),
(2.32,2.40),(2.35,2.32),(2.38,2.46),(2.40,2.54),(2.42,2.35),(2.44,2.40),(2.47,2.30),(2.48,2.42),(2.50,2.36),(2.52,2.48),(2.54,2.30),(2.56,2.42),(2.58,2.36),(2.60,2.46),(2.62,2.38),(2.64,2.34),(2.66,2.48),(2.68,2.22),(2.70,2.34),(2.72,2.20),(2.60,2.18),(2.55,2.22),(2.48,2.24),(2.44,2.15),(2.38,2.22),(2.32,2.24),(2.25,2.24),(2.20,2.30),(2.18,2.25),(2.15,2.06),(2.08,2.25),(2.02,2.25),(1.98,2.25),
(1.95,1.96),(1.85,2.02),(1.72,1.80),(1.62,1.66),(1.74,1.62),(1.92,1.70),(1.98,1.68),(2.20,1.68),(2.32,1.72),(2.22,1.78),(2.30,1.65),(2.30,1.90),(2.34,2.03),(2.24,1.62),(2.44,1.55),(2.52,1.62),(2.50,1.72),(2.55,1.85),(2.66,1.82),(2.72,1.74),(2.82,1.90),(2.86,2.02),(2.95,1.62),(2.67,1.35),(2.30,1.38),(2.32,1.50),(2.28,1.26),(2.10,1.34),(1.90,1.20),(1.92,1.30),(1.95,1.38),(1.50,1.45),(1.42,1.52),(1.60,1.35),(1.62,1.50),(1.80,1.38),
(.55,1.50),(.62,1.52),(.68,1.60),(.48,1.48),(.62,1.40),(.70,1.35),(.72,1.28),(.80,1.20),(.88,1.30),(.94,1.40),(.98,1.25),(1.02,1.36),(1.08,1.28),(1.12,1.32),(1.16,1.28),(1.20,1.40),(1.24,1.34),(1.18,1.20),(1.10,1.15),(1.04,1.08),(.96,1.12),(.90,1.02),(.84,1.10),(.76,1.06),(.68,1.05),(.60,1.10),(.52,1.05),(.42,1.02),(.35,1.15),(.28,1.05),(.38,1.28),(.46,1.25),(1.28,1.20),(1.36,1.25),(1.40,1.15),(1.42,1.28),(1.34,1.02),(1.26,1.05),(1.18,.98),(1.30,.95),(1.36,.85),(1.40,.90),(1.44,1.05),(1.25,.88),(1.22,.76),(1.28,.70),(1.34,.62),(1.42,.70),(1.46,.55),(1.40,.48),(1.32,.52),(1.26,.42),(1.20,.34),(1.12,.28),(1.04,.22),(.96,.17),(.86,.20),(.78,.12),(.68,.14),(.58,.05),(.48,.10),(.40,.02),(.30,.14),(.26,.22),(.22,.12),(.28,.02),(.15,.17),(.20,.30),(.10,.36),(.22,.45),(.14,.50),(.05,.50),(.16,.62),(.25,.64),(.22,.72),(.30,.70),
(1.48,.95),(1.52,.80),(1.55,.85),(1.60,.68),(1.65,.72),(1.70,.58),(1.72,.66),(1.78,.70),(1.82,.82),(1.84,.75),(1.88,.60),(1.90,.66),(1.55,.50),(1.60,.42),(1.65,.38),(1.52,.30),(1.60,.22),(1.66,.12),(1.75,.14),(1.82,.20),(1.86,.10),(1.96,.30),(2.00,.40),(2.18,.50),(2.24,.38),(2.36,.38),(2.38,.60),(2.22,.50),(1.98,.02),(2.05,.08),(2.35,.04),(2.42,.10),(2.62,0),(2.68,0),(2.82,0),(3.05,0),(1.95,.58),(2.00,.60)]

RED = "#E62300"


def events(points):
    return [10 ** a for a, b in points], [10 ** b for a, b in points]


def strip(height, texts):
    """A text band: every entry is (text, page x, y within the band, font px, align)."""
    p = figure(width=1418, height=height, output_backend="svg", toolbar_location=None, x_range=Range1d(0, 1418),
               y_range=Range1d(height, 0), min_border=0, x_axis_location=None, y_axis_location=None)
    p.outline_line_color = None
    p.xgrid.visible = False
    p.ygrid.visible = False
    for t, x, y, size, align in texts:
        p.text(x=[x], y=[y], text=[t], text_font=value(FONT), text_font_style="bold", text_font_size=value(f"{size}px"),
               text_align=align, text_baseline="middle", text_color="black")
    return p


def bar_panel(values, tops, marks, color, y_end, ticks, ylabel, x_start, x_end, left, frame_w, right, frame_h, bottom, star_off, hash_off, label_size, label_gap):
    p = figure(width=left + frame_w + right, height=17 + frame_h + bottom, output_backend="svg", toolbar_location=None,
               x_range=Range1d(x_start, x_end), y_range=Range1d(0, y_end), min_border_left=left, min_border_right=right,
               min_border_top=17, min_border_bottom=bottom)
    p.outline_line_color = None
    p.xgrid.visible = False
    p.ygrid.visible = False
    xs = list(range(1, 6))
    src = ColumnDataSource(dict(x=xs, v=values, t=tops, m=marks,
                                my=[t + (hash_off if m == "#" else star_off) for t, m in zip(tops, marks)],
                                fs=["33px" if m == "#" else "42px" for m in marks]))
    p.vbar(x="x", top="v", bottom=0, width=0.74, source=src, fill_color=color, line_color="black", line_width=6)
    p.add_layout(Whisker(source=src, base="x", upper="t", lower="v", line_color="black", line_width=3,
                         upper_head=TeeHead(size=32, line_width=3, line_color="black"), lower_head=None))
    p.text(x="x", y="my", text="m", source=src, text_font=value(FONT), text_font_size="fs",
           text_align="center", text_baseline="middle", text_color="black")
    p.xaxis.ticker = FixedTicker(ticks=xs)
    p.xaxis.major_label_overrides = {i + 1: c for i, c in enumerate(CATEGORIES)}
    p.xaxis.major_label_orientation = pi / 4
    p.yaxis.ticker = FixedTicker(ticks=ticks)
    if y_end < 2:
        p.yaxis.major_label_overrides = {t: f"{t:.1f}" for t in ticks}
    p.yaxis.axis_label = ylabel
    p.yaxis.axis_label_text_font = FONT
    p.yaxis.axis_label_text_font_style = "bold"
    p.yaxis.axis_label_text_font_size = label_size
    p.yaxis.axis_label_text_color = "black"
    p.yaxis.axis_label_standoff = label_gap
    for ax in (p.xaxis[0], p.yaxis[0]):
        ax.axis_line_width = 5
        ax.axis_line_color = "black"
        ax.major_tick_line_width = 5
        ax.major_tick_line_color = "black"
        ax.major_tick_out = 15
        ax.major_tick_in = 0
        ax.minor_tick_line_color = None
        ax.major_label_text_font = FONT
        ax.major_label_text_font_style = "bold"
        ax.major_label_text_color = "black"
        ax.major_label_text_font_size = "35px"
        ax.major_label_standoff = 3
    p.xaxis.major_label_standoff = 18
    return p


def flow_panel(xlabel, halo, cloud, core, runs, pts, left, right, top, bottom):
    w, h = 350, 354
    p = figure(width=left + w + right, height=top + h + bottom, output_backend="svg", toolbar_location=None,
               x_axis_type="log", y_axis_type="log", x_range=Range1d(10 ** -0.025, 10 ** 4.02), y_range=Range1d(10 ** -0.012, 10 ** 4.012),
               min_border_left=left, min_border_right=right, min_border_top=top, min_border_bottom=bottom)
    p.outline_line_color = "#222222"
    p.outline_line_width = 2
    p.xgrid.visible = False
    p.ygrid.visible = False
    hx, hy = events(halo)
    p.patch(hx, hy, fill_color=RED, fill_alpha=0.38, line_color=None)
    if cloud:
        cx, cy = events(cloud)
        p.patch(cx, cy, fill_color=RED, fill_alpha=0.2, line_color=None)
    sx, sy = events(core)
    p.patch(sx, sy, fill_color=RED, line_color=RED, line_width=1)
    p.segment(x0=[10 ** r[1] for r in runs], x1=[10 ** r[2] for r in runs], y0=[10 ** r[0] for r in runs], y1=[10 ** r[0] for r in runs],
              line_color=RED, line_width=2.4, line_dash="3 2")
    ex, ey = events(pts)
    p.scatter(ex, ey, marker="square", size=2.4, fill_color=RED, line_color=None)
    p.add_layout(Span(location=QUAD_X, dimension="height", line_color="#222222", line_width=2))
    p.add_layout(Span(location=QUAD_Y, dimension="width", line_color="#222222", line_width=2))
    p.xaxis.axis_label = xlabel
    p.yaxis.axis_label = "PI"
    p.xaxis.axis_label_standoff = 0
    p.yaxis.axis_label_standoff = 0
    p.xaxis.ticker.desired_num_ticks = 5
    p.yaxis.ticker.desired_num_ticks = 5
    p.yaxis.major_label_orientation = "vertical"
    for ax in (p.xaxis[0], p.yaxis[0]):
        ax.axis_label_text_font = FONT
        ax.axis_label_text_font_style = "normal"
        ax.axis_label_text_font_size = "18px"
        ax.axis_label_text_color = "#111111"
        ax.major_label_text_font = FONT
        ax.major_label_text_font_size = "21px"
        ax.major_label_text_color = "#111111"
        ax.axis_line_color = "#222222"
        ax.axis_line_width = 1
        ax.major_tick_out = 5
        ax.major_tick_in = 0
        ax.major_tick_line_width = 1.5
        ax.major_tick_line_color = "#222222"
        ax.minor_tick_out = 3
        ax.minor_tick_in = 0
        ax.minor_tick_line_width = 1.2
        ax.minor_tick_line_color = "#222222"
    p.xaxis.major_label_standoff = 3
    p.yaxis.major_label_standoff = 6
    return p


s1 = strip(70, [("A", 0, 24, 59, "left"), ("B", 863, 24, 59, "left")])
a = bar_panel(VIABILITY, VIABILITY_TOP, VIABILITY_MARKS, "#FDA03F", 1.5, [0, 0.5, 1.0, 1.5], "Relative cell viability",
              0.53, 5.53, 173, 397, 250, 397, 214, 0.008, 0.068, "40px", 15)
b = bar_panel(APOPTOSIS, APOPTOSIS_TOP, APOPTOSIS_MARKS, "#91BEF8", 20, [0, 5, 10, 15, 20], "Apoptosis rate (%)",
              0.506, 5.526, 199, 396, 3, 395, 216, 0.25, 0.9, "42px", 13)
s2 = strip(98, [("C", 0, 55, 59, "left"), ("Control", 276, 67, 37, "center"), ("HG", 742, 67, 37, "center"), ("NC+ HG", 1236, 67, 37, "center")])
c1 = flow_panel("Annexin-V-PE", CONTROL_HALO, None, CONTROL_CORE, CONTROL_RUNS, CONTROL_EVENTS, 91, 47, 18, 82)
c2 = flow_panel("Annexin-V-FITC", HG_HALO, HG_CLOUD, HG_CORE, HG_RUNS, HG_EVENTS, 75, 30, 20, 80)
c3 = flow_panel("Annexin-V-FITC", NC_HALO, NC_CLOUD, NC_CORE, NC_RUNS, NC_EVENTS, 92, 33, 20, 80)
s3 = strip(48, [("siStat1+ HG", 402, 26, 37, "center"), ("siStat1", 1060, 26, 37, "center")])
c4 = flow_panel("Annexin-V-FITC", SI_HG_HALO, SI_HG_CLOUD, SI_HG_CORE, SI_HG_RUNS, SI_HG_EVENTS, 234, 30, 18, 50)
c5 = flow_panel("Annexin-V-PE", SI_HALO, None, SI_CORE, SI_RUNS, SI_EVENTS, 257, 197, 16, 52)

page = column(s1, row(a, b, spacing=0, margin=(-20, 0, 0, 0)), s2, row(c1, c2, c3, spacing=0), s3, row(c4, c5, spacing=0), spacing=0)
open("out.html", "w").write(file_html(page, INLINE))
